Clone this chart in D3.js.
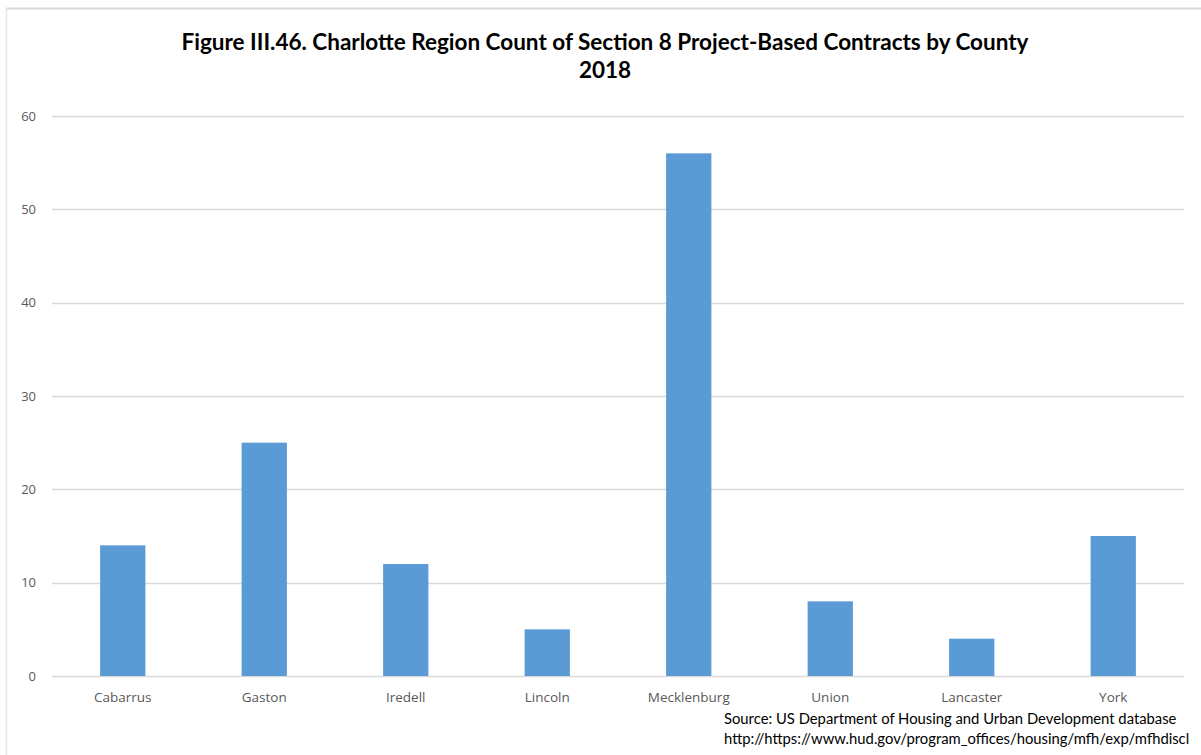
<!DOCTYPE html>
<html><head><meta charset="utf-8">
<script src="https://cdn.jsdelivr.net/npm/d3@7"></script>
<style>html,body{margin:0;padding:0;background:#fff;}svg{display:block;}</style>
</head><body>
<svg id="chart" width="1201" height="755"></svg>
<script>
const counties = ["Cabarrus","Gaston","Iredell","Lincoln","Mecklenburg","Union","Lancaster","York"];
const contracts = [14,25,12,5,56,8,4,15];
const yTicks = [0,10,20,30,40,50,60];
const titleLines = ["Figure III.46. Charlotte Region Count of Section 8 Project-Based Contracts by County","2018"];
const sourceLines = ["Source: US Department of Housing and Urban Development database","http://https://www.hud.gov/program_offices/housing/mfh/exp/mfhdiscl"];

const svg = d3.select("#chart");
// frame
svg.append("line").attr("x1",6).attr("x2",1201).attr("y1",8.5).attr("y2",8.5).attr("stroke","#d9d9d9").attr("stroke-width",2);
svg.append("line").attr("x1",6.5).attr("x2",6.5).attr("y1",8).attr("y2",755).attr("stroke","#e6e6e6").attr("stroke-width",1.5);

const x = d3.scaleBand().domain(counties).range([52,1184]).paddingInner(0.68).paddingOuter(0.34);
const y = d3.scaleLinear().domain([0,60]).range([676,116]);

// gridlines
svg.append("g").selectAll("line").data(yTicks).join("line")
  .attr("x1",52).attr("x2",1184)
  .attr("y1",d=>Math.round(y(d))+0.5).attr("y2",d=>Math.round(y(d))+0.5)
  .attr("stroke","#d9d9d9").attr("stroke-width",1.3);

// y labels
svg.append("g").selectAll("text").data(yTicks).join("text")
  .attr("x",36).attr("y",d=>y(d)).attr("dy","0.35em").attr("text-anchor","end")
  .attr("font-family","Open Sans, sans-serif").attr("font-size",13).attr("fill","#595959")
  .text(d=>d);

// bars
svg.append("g").selectAll("rect").data(contracts).join("rect")
  .attr("x",(d,i)=>x(counties[i])).attr("width",x.bandwidth())
  .attr("y",d=>y(d)).attr("height",d=>y(0)-y(d))
  .attr("fill","#5b9bd5");

// x labels
svg.append("g").selectAll("text").data(counties).join("text")
  .attr("x",d=>x(d)+x.bandwidth()/2).attr("y",702).attr("text-anchor","middle")
  .attr("font-family","Open Sans, sans-serif").attr("font-size",13.5).attr("fill","#595959")
  .text(d=>d);

// title
svg.append("g").selectAll("text").data(titleLines).join("text")
  .attr("x",605).attr("y",(d,i)=>50+i*28).attr("text-anchor","middle")
  .attr("font-family","Lato, sans-serif").attr("font-weight","bold").attr("font-size",22.5).attr("fill","#000")
  .text(d=>d);

// source
svg.append("g").selectAll("text").data(sourceLines).join("text")
  .attr("x",724).attr("y",(d,i)=>724+i*20)
  .attr("font-family","Lato, sans-serif").attr("font-size",14.8).attr("fill","#000")
  .text(d=>d);
</script>
</body></html>
